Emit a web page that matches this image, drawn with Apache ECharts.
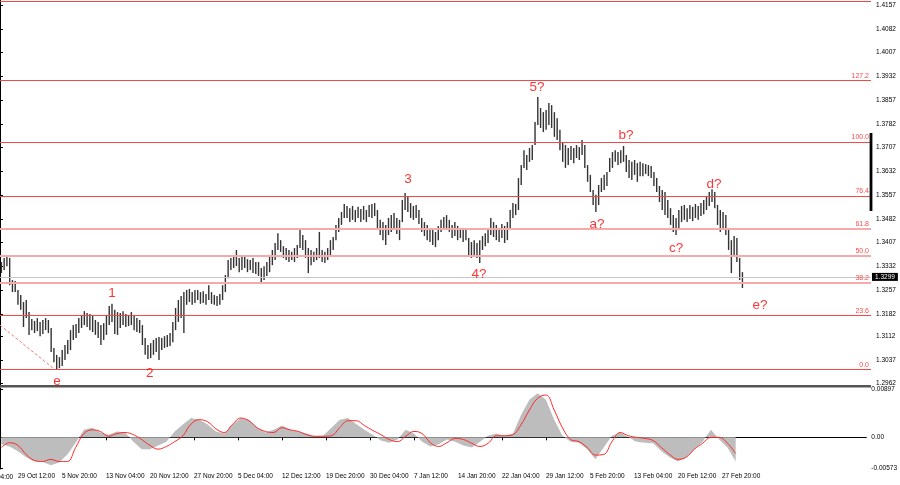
<!DOCTYPE html>
<html><head><meta charset="utf-8">
<script src="https://cdn.jsdelivr.net/npm/echarts@6/dist/echarts.min.js"></script>
<style>html,body{margin:0;padding:0;background:#fff}#c{width:900px;height:485px}</style>
</head><body><div id="c"></div>
<script>
// 8-hour bars (each = two H4 bars), price highs and lows
const highs = [
1.3346,1.3359,1.3368,1.3359,1.3289,1.3286,1.3258,1.3242,1.3220,1.3226,
1.3188,1.3166,1.3160,1.3169,1.3157,1.3163,1.3169,1.3163,1.3138,1.3075,
1.3053,1.3046,1.3068,1.3084,1.3100,1.3131,1.3147,1.3150,1.3169,1.3179,
1.3191,1.3185,1.3182,1.3176,1.3163,1.3157,1.3147,1.3153,1.3179,1.3207,
1.3214,1.3195,1.3188,1.3185,1.3191,1.3182,1.3179,1.3188,1.3176,1.3169,
1.3163,1.3147,1.3106,1.3084,1.3090,1.3100,1.3106,1.3109,1.3106,1.3112,
1.3116,1.3122,1.3157,1.3201,1.3226,1.3239,1.3251,1.3258,1.3261,1.3251,
1.3258,1.3258,1.3251,1.3254,1.3245,1.3273,1.3251,1.3242,1.3239,1.3245,
1.3273,1.3305,1.3352,1.3359,1.3365,1.3384,1.3359,1.3362,1.3365,1.3355,
1.3352,1.3359,1.3346,1.3346,1.3327,1.3333,1.3346,1.3365,1.3384,1.3406,
1.3437,1.3415,1.3396,1.3390,1.3384,1.3378,1.3390,1.3400,1.3453,1.3431,
1.3415,1.3390,1.3384,1.3378,1.3390,1.3441,1.3384,1.3378,1.3390,1.3415,
1.3425,1.3463,1.3485,1.3504,1.3529,1.3523,1.3516,1.3523,1.3510,1.3520,
1.3513,1.3523,1.3510,1.3526,1.3529,1.3532,1.3510,1.3479,1.3472,1.3463,
1.3485,1.3494,1.3501,1.3485,1.3479,1.3542,1.3564,1.3551,1.3532,1.3523,
1.3526,1.3510,1.3485,1.3472,1.3463,1.3453,1.3447,1.3441,1.3460,1.3479,
1.3488,1.3494,1.3479,1.3463,1.3472,1.3460,1.3453,1.3447,1.3453,1.3422,
1.3409,1.3415,1.3406,1.3415,1.3428,1.3437,1.3447,1.3485,1.3472,1.3463,
1.3453,1.3466,1.3460,1.3472,1.3510,1.3532,1.3529,1.3611,1.3652,1.3699,
1.3684,1.3706,1.3715,1.3788,1.3867,1.3832,1.3819,1.3826,1.3848,1.3841,
1.3819,1.3800,1.3763,1.3725,1.3715,1.3706,1.3712,1.3706,1.3715,1.3709,
1.3731,1.3715,1.3652,1.3621,1.3573,1.3558,1.3589,1.3611,1.3621,1.3630,
1.3674,1.3693,1.3699,1.3693,1.3699,1.3712,1.3684,1.3668,1.3662,1.3668,
1.3658,1.3662,1.3658,1.3655,1.3652,1.3649,1.3630,1.3611,1.3586,1.3573,
1.3567,1.3542,1.3516,1.3494,1.3485,1.3510,1.3523,1.3526,1.3516,1.3526,
1.3520,1.3529,1.3523,1.3532,1.3542,1.3554,1.3567,1.3576,1.3567,1.3526,
1.3510,1.3504,1.3494,1.3453,1.3415,1.3428,1.3422,1.3359,1.3314
];
const lows = [
1.3311,1.3321,1.3333,1.3273,1.3251,1.3251,1.3211,1.3195,1.3141,1.3169,
1.3116,1.3131,1.3122,1.3128,1.3112,1.3119,1.3131,1.3122,1.3062,1.3030,
1.3008,1.3011,1.3018,1.3037,1.3056,1.3068,1.3100,1.3106,1.3122,1.3138,
1.3147,1.3141,1.3131,1.3125,1.3116,1.3106,1.3084,1.3100,1.3116,1.3147,
1.3157,1.3119,1.3116,1.3138,1.3147,1.3141,1.3144,1.3147,1.3131,1.3125,
1.3122,1.3084,1.3053,1.3040,1.3043,1.3053,1.3062,1.3037,1.3068,1.3075,
1.3078,1.3081,1.3093,1.3131,1.3157,1.3169,1.3122,1.3211,1.3220,1.3211,
1.3217,1.3226,1.3214,1.3217,1.3211,1.3226,1.3214,1.3211,1.3207,1.3211,
1.3226,1.3251,1.3295,1.3321,1.3327,1.3333,1.3314,1.3321,1.3327,1.3314,
1.3321,1.3311,1.3308,1.3302,1.3283,1.3289,1.3302,1.3314,1.3336,1.3352,
1.3384,1.3378,1.3359,1.3352,1.3346,1.3352,1.3346,1.3359,1.3390,1.3384,
1.3359,1.3311,1.3336,1.3346,1.3352,1.3359,1.3346,1.3343,1.3352,1.3368,
1.3384,1.3415,1.3441,1.3463,1.3485,1.3485,1.3472,1.3479,1.3472,1.3485,
1.3472,1.3479,1.3472,1.3488,1.3485,1.3491,1.3453,1.3431,1.3415,1.3400,
1.3431,1.3441,1.3447,1.3434,1.3415,1.3472,1.3510,1.3504,1.3485,1.3479,
1.3485,1.3466,1.3441,1.3428,1.3415,1.3409,1.3400,1.3393,1.3415,1.3441,
1.3453,1.3450,1.3441,1.3422,1.3428,1.3415,1.3422,1.3409,1.3415,1.3365,
1.3359,1.3368,1.3359,1.3343,1.3384,1.3396,1.3406,1.3431,1.3425,1.3415,
1.3409,1.3422,1.3406,1.3415,1.3453,1.3485,1.3494,1.3510,1.3589,1.3643,
1.3636,1.3662,1.3668,1.3715,1.3778,1.3769,1.3756,1.3763,1.3778,1.3769,
1.3741,1.3731,1.3699,1.3662,1.3643,1.3652,1.3668,1.3658,1.3674,1.3668,
1.3684,1.3643,1.3599,1.3567,1.3526,1.3504,1.3526,1.3567,1.3573,1.3586,
1.3630,1.3643,1.3662,1.3652,1.3658,1.3662,1.3630,1.3611,1.3605,1.3621,
1.3599,1.3617,1.3617,1.3624,1.3617,1.3611,1.3586,1.3567,1.3535,1.3510,
1.3494,1.3485,1.3463,1.3441,1.3431,1.3447,1.3472,1.3479,1.3472,1.3482,
1.3475,1.3485,1.3479,1.3491,1.3497,1.3510,1.3523,1.3535,1.3516,1.3463,
1.3441,1.3453,1.3431,1.3384,1.3311,1.3368,1.3346,1.3289,1.3264
];
// MACD main (histogram) and signal, one sample every 3 bars
const macdHist = [
-0.0013,-0.0017,-0.0026,-0.0037,-0.0045,-0.0046,-0.0052,-0.0047,-0.0032,-0.0010,
0.0014,0.0018,0.0009,0.0005,0.0011,0.0009,-0.0008,-0.0022,-0.0022,-0.0015,
-0.0008,0.0011,0.0024,0.0036,0.0033,0.0024,0.0011,0.0007,0.0024,0.0036,
0.0033,0.0018,0.0009,0.0014,0.0022,0.0014,0.0011,0.0007,0.0002,0.0003,
0.0018,0.0033,0.0036,0.0025,0.0014,0.0005,-0.0006,-0.0010,-0.0004,0.0014,
0.0007,-0.0008,-0.0017,-0.0013,-0.0004,-0.0008,-0.0015,-0.0019,-0.0008,0.0003,
0.0007,0.0003,0.0007,0.0042,0.0070,0.0082,0.0070,0.0033,0.0003,-0.0008,
-0.0010,-0.0022,-0.0041,-0.0019,0.0003,0.0009,0.0000,-0.0008,-0.0010,-0.0011,
-0.0026,-0.0037,-0.0045,-0.0037,-0.0022,-0.0008,0.0014,-0.0004,-0.0019,-0.0045
];
const macdSignal = [
-0.0019,-0.0010,-0.0015,-0.0032,-0.0043,-0.0045,-0.0041,-0.0045,-0.0045,-0.0019,
0.0007,0.0014,0.0011,0.0002,0.0007,0.0009,0.0005,-0.0004,-0.0015,-0.0022,
-0.0017,-0.0008,0.0003,0.0025,0.0033,0.0029,0.0016,0.0009,0.0024,0.0036,
0.0031,0.0018,0.0011,0.0009,0.0018,0.0014,0.0011,0.0005,0.0002,0.0002,
0.0003,0.0018,0.0031,0.0031,0.0022,0.0013,0.0005,-0.0004,-0.0008,0.0002,
0.0011,0.0007,-0.0010,-0.0017,-0.0010,-0.0002,-0.0004,-0.0011,-0.0017,-0.0011,
0.0003,0.0003,0.0005,0.0024,0.0051,0.0073,0.0079,0.0051,0.0018,-0.0004,
-0.0008,-0.0019,-0.0033,-0.0032,-0.0008,0.0009,0.0003,0.0000,-0.0002,-0.0006,
-0.0019,-0.0032,-0.0041,-0.0037,-0.0022,-0.0011,0.0000,0.0000,-0.0011,-0.0030
];
const macdStep = 3;
const priceTicks = [1.2962,1.3037,1.3112,1.3182,1.3257,1.3332,1.3407,1.3482,1.3557,1.3632,1.3707,1.3782,1.3857,1.3932,1.4007,1.4082,1.4157];
const macdTicks = [-0.00573,0,0.00897];
const timeLabels = ['29 Oct 12:00','5 Nov 20:00','13 Nov 04:00','20 Nov 12:00','27 Nov 20:00','5 Dec 04:00','12 Dec 12:00','19 Dec 20:00','30 Dec 04:00','7 Jan 12:00','14 Jan 20:00','22 Jan 04:00','29 Jan 12:00','5 Feb 20:00','13 Feb 04:00','20 Feb 12:00','27 Feb 20:00'];
const timeTickFirst = 6.5, timeTickStep = 16;
const fibNames = ['0.0','23.6','38.2','50.0','61.8','76.4','100.0','127.2','161.8'];
const fibPrices = [1.3007,1.3177,1.3281,1.3366,1.3451,1.3555,1.3725,1.3920,1.4168];
const lastPrice = 1.3299;
const waveLabels = ['e','1','2','3','4?','5?','a?','b?','c?','d?','e?'];
const waveX = [20.6,40.5,54.2,147.6,173.2,194.2,215.9,226.4,244.5,258.2,274.9];
const waveY = [1.2971,1.3248,1.2996,1.3608,1.3308,1.3898,1.3466,1.3747,1.3390,1.3592,1.3210];
const trendX = [0,19.6];
const trendY = [1.3147,1.3008];

const FONT = 'Liberation Sans';
const timeTickVals = timeLabels.map((_, i) => timeTickFirst + i * timeTickStep);
const pinkLevels = ['38.2','50.0','61.8'];

const chart = echarts.init(document.getElementById('c'), null, {renderer: 'canvas'});
const barData = highs.map((h, i) => [i + 0.5, lows[i], h]);
const histData = macdHist.map((v, j) => [j * macdStep + 0.5, v]);
const sigData = macdSignal.map((v, j) => [j * macdStep + 0.5, v]);

const option = {
  animation: false,
  backgroundColor: '#ffffff',
  grid: [
    {left: 0, top: 0, width: 871, height: 385},
    {left: 0, top: 388, width: 871, height: 81}
  ],
  xAxis: [
    {gridIndex: 0, type: 'value', min: 0, max: 315, show: false},
    {gridIndex: 1, type: 'value', min: 0, max: 315,
      axisLine: {show: true, lineStyle: {color: '#000', width: 1}},
      axisTick: {show: true, length: 3, lineStyle: {color: '#000'}, customValues: timeTickVals},
      axisLabel: {show: true, customValues: timeTickVals, align: 'left', margin: 4,
        fontSize: 6.5, fontFamily: FONT, color: '#000',
        formatter: v => timeLabels[Math.round((v - timeTickFirst) / timeTickStep)] || ''},
      splitLine: {show: false}}
  ],
  yAxis: [
    {gridIndex: 0, type: 'value', position: 'right', min: 1.29579, max: 1.41728, scale: true,
      axisLine: {show: true, lineStyle: {color: '#000', width: 1}},
      axisTick: {show: true, length: 3, lineStyle: {color: '#000'}, customValues: priceTicks},
      axisLabel: {show: true, customValues: priceTicks, margin: 5, fontSize: 6.5, fontFamily: FONT, color: '#000',
        formatter: v => v.toFixed(4)},
      splitLine: {show: false}},
    {gridIndex: 1, type: 'value', position: 'right', min: -0.0059, max: 0.0092, scale: true,
      axisLine: {show: true, lineStyle: {color: '#000', width: 1}},
      axisTick: {show: true, length: 3, lineStyle: {color: '#000'}, customValues: macdTicks},
      axisLabel: {show: true, customValues: macdTicks, margin: 5, fontSize: 6.5, fontFamily: FONT, color: '#000',
        formatter: v => v === 0 ? '0.00' : v.toFixed(5)},
      splitLine: {show: false}}
  ],
  series: [
    {
      type: 'line', xAxisIndex: 0, yAxisIndex: 0, z: 1,
      data: trendX.map((x, i) => [x, trendY[i]]),
      showSymbol: false, silent: true,
      lineStyle: {color: '#f27a7a', width: 1, type: [3, 2]},
      markLine: {
        silent: true, symbol: ['none', 'none'], animation: false, precision: 5,
        data: fibPrices.map((p, i) => ({
          yAxis: p,
          lineStyle: pinkLevels.includes(fibNames[i])
            ? {color: '#f7aaaa', width: 2, type: 'solid'}
            : {color: '#f24848', width: 1.2, type: 'solid'},
          label: {show: fibNames[i] !== '161.8', formatter: fibNames[i], position: 'insideEndTop',
            distance: [2, 1], color: '#ff4a4a', fontSize: 7, fontFamily: FONT}
        })).concat([{
          yAxis: lastPrice,
          lineStyle: {color: '#c6c6c6', width: 1, type: 'solid'},
          label: {show: true, position: 'end', distance: 1, formatter: lastPrice.toFixed(4),
            backgroundColor: '#000', color: '#fff', fontSize: 6.5, fontFamily: FONT,
            padding: [1, 3, 0, 3], lineHeight: 7}
        }])
      }
    },
    {
      type: 'custom', xAxisIndex: 0, yAxisIndex: 0, z: 3, silent: true,
      data: barData,
      renderItem: function (params, api) {
        const x = api.value(0), lo = api.value(1), hi = api.value(2);
        const p1 = api.coord([x, hi]);
        const p2 = api.coord([x, lo]);
        return {type: 'line', shape: {x1: p1[0], y1: p1[1], x2: p2[0], y2: p2[1]},
          style: {stroke: '#333333', lineWidth: 1.4}};
      }
    },
    {
      type: 'scatter', xAxisIndex: 0, yAxisIndex: 0, z: 5, symbolSize: 0, silent: true,
      data: waveLabels.map((t, i) => ({name: t, value: [waveX[i], waveY[i]]})),
      label: {show: true, position: 'inside', formatter: '{b}', color: '#ff0000', fontSize: 13.5, fontFamily: FONT}
    },
    {
      type: 'line', xAxisIndex: 1, yAxisIndex: 1, z: 2, silent: true,
      data: histData, showSymbol: false,
      lineStyle: {width: 0, color: '#bdbdbd'},
      areaStyle: {color: '#bdbdbd', opacity: 1, origin: 0}
    },
    {
      type: 'line', xAxisIndex: 1, yAxisIndex: 1, z: 3, silent: true,
      data: sigData, showSymbol: false, smooth: 0.4,
      lineStyle: {width: 1, color: '#ff2a2a'}
    }
  ],
  graphic: [
    {type: 'rect', silent: true, z: 10, shape: {x: 0, y: 385, width: 871, height: 2.5}, style: {fill: '#555'}},
    {type: 'rect', silent: true, z: 10, shape: {x: 869.6, y: 133, width: 2.8, height: 78}, style: {fill: '#000'}},
    {type: 'text', silent: true, z: 10, x: -24, y: 477,
      style: {text: '22 Oct 04:00', fontSize: 6.5, fontFamily: FONT, fill: '#000', textVerticalAlign: 'middle'}}
  ]
};
chart.setOption(option);
</script>
</body></html>
